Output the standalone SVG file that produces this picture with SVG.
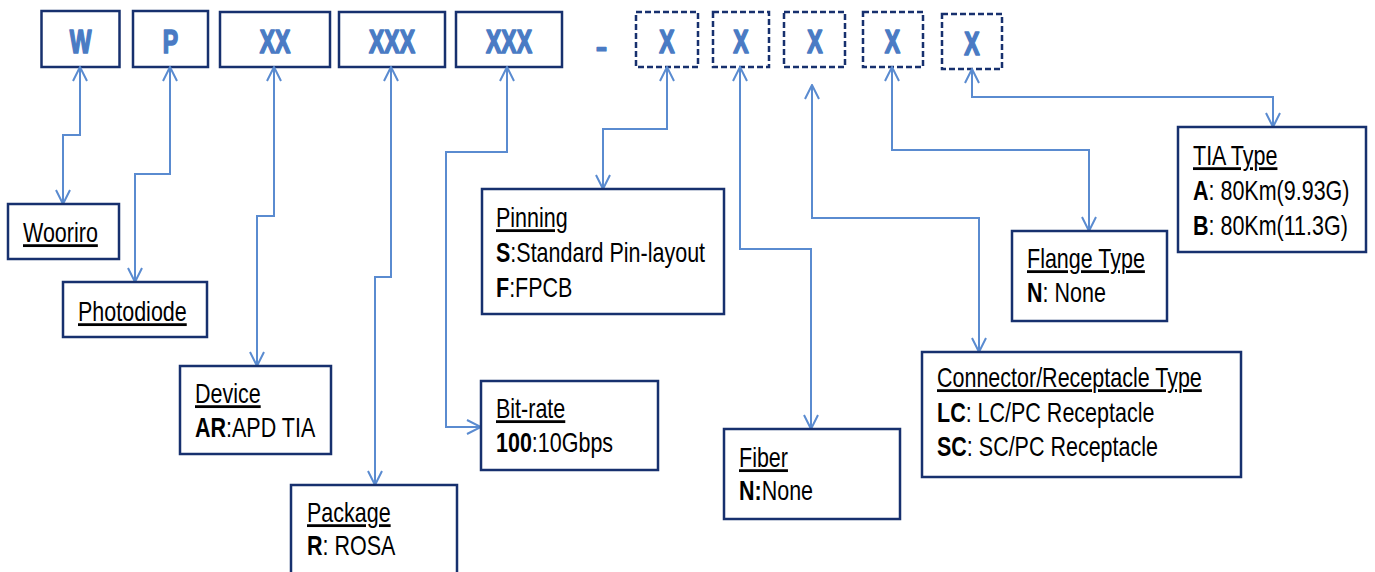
<svg xmlns="http://www.w3.org/2000/svg" width="1375" height="572" viewBox="0 0 1375 572">
  <style>
    .code { fill: #fff; stroke: #17306e; stroke-width: 2.5; }
    .opt { fill: #fff; stroke: #17306e; stroke-width: 2.5; stroke-dasharray: 6 3; }
    .box { fill: #fff; stroke: #17306e; stroke-width: 2.5; }
    .sym { font-family: "Liberation Sans", Arial, sans-serif; font-weight: bold; font-size: 23px; fill: #4a7bc4; stroke: #4a7bc4; stroke-width: 1.2; stroke-linejoin: round; text-anchor: middle; }
    .lbl { font-family: "Liberation Sans", Arial, sans-serif; font-size: 21.5px; fill: #000; }
    .hd { text-decoration: underline; }
    .b { font-weight: bold; }
    .link { fill: none; stroke: #5a8bd0; stroke-width: 2; marker-start: url(#v); marker-end: url(#v); }
  </style>
  <defs>
    <marker id="v" viewBox="0 0 16 16" refX="15" refY="8" markerWidth="16" markerHeight="16" markerUnits="userSpaceOnUse" orient="auto-start-reverse">
      <path d="M1,1 L15,8 L1,15" fill="none" stroke="#5a8bd0" stroke-width="2"/>
    </marker>
  </defs>
  <rect width="1375" height="572" fill="#fff"/>

  <!-- part-number code fields -->
  <g id="code-w"><rect class="code" x="41.5" y="11" width="78" height="56"/><text class="sym" transform="translate(80.5 53) scale(1 1.45)">W</text></g>
  <g id="code-p"><rect class="code" x="133" y="11" width="75" height="56"/><text class="sym" transform="translate(170.5 53) scale(1 1.45)">P</text></g>
  <g id="code-device"><rect class="code" x="220" y="12" width="110" height="55"/><text class="sym" transform="translate(275 53) scale(1 1.45)">XX</text></g>
  <g id="code-package"><rect class="code" x="339" y="12" width="106" height="55"/><text class="sym" transform="translate(392 53) scale(1 1.45)">XXX</text></g>
  <g id="code-bitrate"><rect class="code" x="456" y="12" width="106" height="55"/><text class="sym" transform="translate(509 53) scale(1 1.45)">XXX</text></g>
  <g id="code-dash"><text class="sym" style="font-size:30px" transform="translate(601.5 57) scale(1.15 1)">-</text></g>
  <g id="code-pinning"><rect class="opt" x="636" y="12" width="62" height="55"/><text class="sym" transform="translate(667 53) scale(1 1.45)">X</text></g>
  <g id="code-fiber"><rect class="opt" x="713" y="12" width="56" height="55"/><text class="sym" transform="translate(741 53) scale(1 1.45)">X</text></g>
  <g id="code-connector"><rect class="opt" x="784" y="12" width="61" height="55"/><text class="sym" transform="translate(815 53) scale(1 1.45)">X</text></g>
  <g id="code-flange"><rect class="opt" x="863" y="12" width="60" height="55"/><text class="sym" transform="translate(892.5 53) scale(1 1.45)">X</text></g>
  <g id="code-tia"><rect class="opt" x="942" y="14" width="60" height="55"/><text class="sym" transform="translate(972 55) scale(1 1.45)">X</text></g>

  <!-- connectors -->
  <g id="connectors">
    <path class="link" d="M80,67 V135 H63 V204"/>
    <path class="link" d="M170,67 V174 H135 V282"/>
    <path class="link" d="M274,67 V216 H257 V366"/>
    <path class="link" d="M391,67 V277 H375 V485"/>
    <path class="link" d="M507,67 V152 H446 V427 H481"/>
    <path class="link" d="M667,67 V129 H603 V189"/>
    <path class="link" d="M740,67 V249 H811 V429"/>
    <path class="link" d="M812,85 V218 H979 V352"/>
    <path class="link" d="M892,67 V150 H1089 V231"/>
    <path class="link" d="M972,69 V97 H1273 V127"/>
  </g>

  <!-- description boxes -->
  <g id="n-wooriro">
    <rect class="box" x="8" y="204" width="111" height="55"/>
    <text class="lbl hd" transform="translate(23 242) scale(1 1.3)">Wooriro</text>
  </g>
  <g id="n-photodiode">
    <rect class="box" x="63" y="282" width="144" height="55"/>
    <text class="lbl hd" transform="translate(78 321) scale(1 1.3)">Photodiode</text>
  </g>
  <g id="n-device">
    <rect class="box" x="180" y="366" width="151" height="88"/>
    <text class="lbl hd" transform="translate(195 403) scale(1 1.3)">Device</text>
    <text class="lbl" transform="translate(195 437) scale(1 1.3)"><tspan class="b">AR</tspan>:APD TIA</text>
  </g>
  <g id="n-package">
    <rect class="box" x="291" y="485" width="166" height="95"/>
    <text class="lbl hd" transform="translate(307 522) scale(1 1.3)">Package</text>
    <text class="lbl" transform="translate(307 555) scale(1 1.3)"><tspan class="b">R</tspan>: ROSA</text>
  </g>
  <g id="n-pinning">
    <rect class="box" x="482" y="189" width="242" height="125"/>
    <text class="lbl hd" transform="translate(496 227) scale(1 1.3)">Pinning</text>
    <text class="lbl" transform="translate(496 262) scale(1 1.3)"><tspan class="b">S</tspan>:Standard Pin-layout</text>
    <text class="lbl" transform="translate(496 297) scale(1 1.3)"><tspan class="b">F</tspan>:FPCB</text>
  </g>
  <g id="n-bitrate">
    <rect class="box" x="481" y="381" width="177" height="89"/>
    <text class="lbl hd" transform="translate(496 418) scale(1 1.3)">Bit-rate</text>
    <text class="lbl" transform="translate(496 452) scale(1 1.3)"><tspan class="b">100</tspan>:10Gbps</text>
  </g>
  <g id="n-fiber">
    <rect class="box" x="724" y="429" width="176" height="90"/>
    <text class="lbl hd" transform="translate(739 467) scale(1 1.3)">Fiber</text>
    <text class="lbl" transform="translate(739 500) scale(1 1.3)"><tspan class="b">N:</tspan>None</text>
  </g>
  <g id="n-connector">
    <rect class="box" x="922" y="352" width="319" height="125"/>
    <text class="lbl hd" transform="translate(937 387) scale(1 1.3)">Connector/Receptacle Type</text>
    <text class="lbl" transform="translate(937 422) scale(1 1.3)"><tspan class="b">LC</tspan>: LC/PC Receptacle</text>
    <text class="lbl" transform="translate(937 456) scale(1 1.3)"><tspan class="b">SC</tspan>: SC/PC Receptacle</text>
  </g>
  <g id="n-flange">
    <rect class="box" x="1012" y="231" width="155" height="90"/>
    <text class="lbl hd" transform="translate(1027 268) scale(1 1.3)">Flange Type</text>
    <text class="lbl" transform="translate(1027 302) scale(1 1.3)"><tspan class="b">N</tspan>: None</text>
  </g>
  <g id="n-tia">
    <rect class="box" x="1178" y="127" width="188" height="125"/>
    <text class="lbl hd" transform="translate(1193 165) scale(1 1.3)">TIA Type</text>
    <text class="lbl" transform="translate(1193 200) scale(1 1.3)"><tspan class="b">A</tspan>: 80Km(9.93G)</text>
    <text class="lbl" transform="translate(1193 235) scale(1 1.3)"><tspan class="b">B</tspan>: 80Km(11.3G)</text>
  </g>
</svg>
